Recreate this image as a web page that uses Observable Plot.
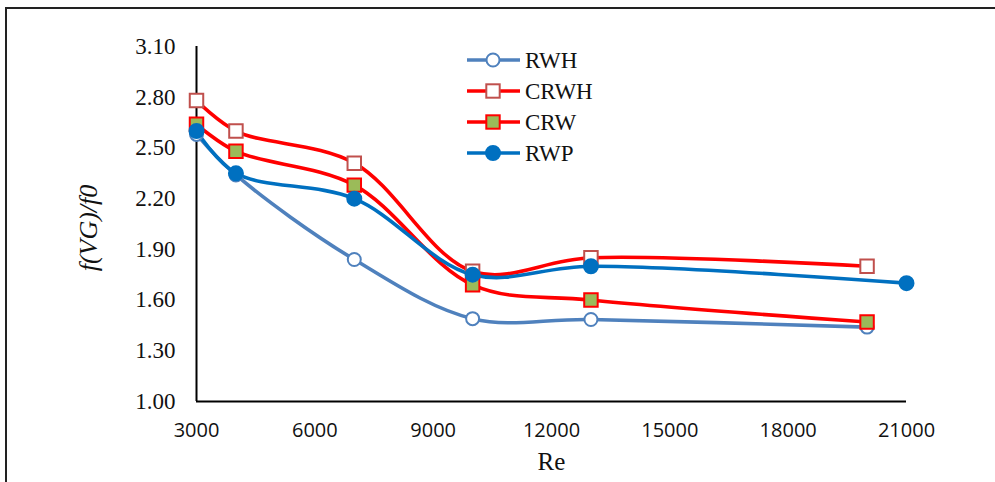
<!DOCTYPE html>
<html><head><meta charset="utf-8">
<script src="https://cdn.jsdelivr.net/npm/d3@7"></script>
<script src="https://cdn.jsdelivr.net/npm/@observablehq/plot@0.6"></script>
<style>
body{margin:0;background:#fff;}
#wrap{position:relative;width:995px;height:482px;overflow:hidden;}
#frame{position:absolute;left:5px;top:7px;width:1000px;height:500px;border-top:2px solid #222;border-left:2px solid #222;box-sizing:border-box;}
#legend{position:absolute;left:460px;top:44px;}
</style></head>
<body><div id="wrap"><div id="frame"></div><div id="chart"></div><div id="legend"></div></div>
<script>
const seriesNames = ["RWH","CRWH","CRW","RWP"];
const reRWH  = [3000,4000,7000,10000,13000,20000];
const valRWH = [2.58,2.34,1.84,1.49,1.485,1.44];
const reCRWH  = [3000,4000,7000,10000,13000,20000];
const valCRWH = [2.78,2.60,2.41,1.77,1.85,1.80];
const reCRW  = [3000,4000,7000,10000,13000,20000];
const valCRW = [2.64,2.48,2.28,1.69,1.60,1.47];
const reRWP  = [3000,4000,7000,10000,13000,21000];
const valRWP = [2.60,2.35,2.20,1.75,1.80,1.70];
const xTicks = [3000,6000,9000,12000,15000,18000,21000];
const yTicks = [1.0,1.3,1.6,1.9,2.2,2.5,2.8,3.1];

const styles = {
  RWH:  {line:"#4F81BD", stroke:"#4F81BD", fill:"#fff", symbol:"circle", r:6.5},
  CRWH: {line:"#FF0000", stroke:"#C0504D", fill:"#fff", symbol:"square", r:7.6},
  CRW:  {line:"#FF0000", stroke:"#FF0000", fill:"#9BBB59", symbol:"square", r:7.6},
  RWP:  {line:"#0070C0", stroke:"#0070C0", fill:"#0070C0", symbol:"circle", r:7}
};
const mk = (xs, ys) => xs.map((x,i)=>({x, y:ys[i]}));
const data = {RWH: mk(reRWH,valRWH), CRWH: mk(reCRWH,valCRWH), CRW: mk(reCRW,valCRW), RWP: mk(reRWP,valRWP)};

const marks = [
  Plot.ruleX([3000],{stroke:"#000", strokeWidth:2}),
  Plot.ruleY([1.0],{stroke:"#000", strokeWidth:2}),
];
for (const s of seriesNames) {
  marks.push(Plot.line(data[s],{x:"x",y:"y",stroke:styles[s].line,strokeWidth:3.6,curve:"catmull-rom"}));
}
for (const s of seriesNames) {
  const st = styles[s];
  marks.push(Plot.dot(data[s],{x:"x",y:"y",symbol:st.symbol,r:st.r,fill:st.fill,stroke:st.stroke,strokeWidth:2}));
}
marks.push(Plot.axisY({ticks:yTicks, tickSize:0, tickPadding:21, tickFormat:d=>d.toFixed(2), fontSize:23, fontFamily:"Liberation Serif", label:null}));
marks.push(Plot.axisX({ticks:xTicks, tickSize:0, tickPadding:21, tickFormat:d=>String(d), fontSize:20, fontFamily:"Open Sans", label:null}));
marks.push(Plot.text(["Re"],{frameAnchor:"bottom", dy:68, text:d=>d, fontSize:25, fontFamily:"Liberation Serif", fill:"#111"}));
marks.push(Plot.text(["f(VG)/f0"],{frameAnchor:"left", textAnchor:"middle", dx:-108, dy:4, rotate:-90, text:d=>d, fontSize:26, fontStyle:"italic", fontFamily:"Liberation Serif", fill:"#111"}));

const chart = Plot.plot({
  width:995, height:482,
  marginLeft:196, marginRight:89, marginTop:46, marginBottom:81,
  x:{domain:[3000,21000]},
  y:{domain:[1.0,3.1]},
  style:{background:"transparent", color:"#111", overflow:"visible"},
  marks
});
chart.style.position="absolute"; chart.style.left="0"; chart.style.top="0";
document.getElementById("chart").appendChild(chart);

// legend
const lg = d3.select("#legend").append("svg").attr("width",220).attr("height",130);
seriesNames.forEach((s,i)=>{
  const st = styles[s]; const y = 16 + i*31;
  lg.append("line").attr("x1",7).attr("x2",60).attr("y1",y).attr("y2",y).attr("stroke",st.line).attr("stroke-width",3.6);
  if (st.symbol==="circle") lg.append("circle").attr("cx",33).attr("cy",y).attr("r",st.r).attr("fill",st.fill).attr("stroke",st.stroke).attr("stroke-width",2);
  else lg.append("rect").attr("x",33-6.7).attr("y",y-6.7).attr("width",13.4).attr("height",13.4).attr("fill",st.fill).attr("stroke",st.stroke).attr("stroke-width",2);
  lg.append("text").attr("x",65).attr("y",y).attr("dy","0.35em").attr("font-family","Liberation Serif").attr("font-size",23).attr("fill","#111").text(s);
});
</script></body></html>
